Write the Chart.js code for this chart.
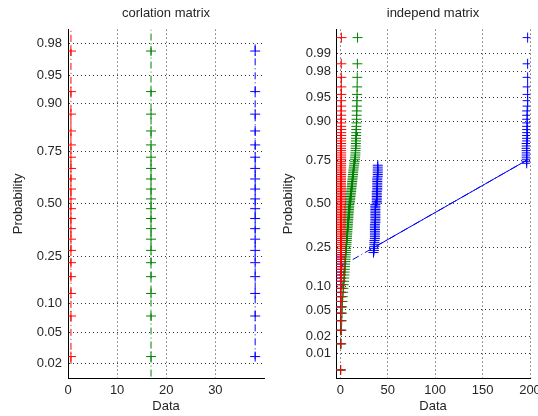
<!DOCTYPE html>
<html lang="en">
<head>
<meta charset="UTF-8"/>
<title>Normal probability plots</title>
<script src="https://cdn.jsdelivr.net/npm/chart.js"></script>
<style>
  body { margin: 0; background: #fff; }
  .panel { position: absolute; top: 0; }
  #leftPanel { left: 0; }
  #rightPanel { left: 270px; }
</style>
</head>
<body>
<div class="panel" id="leftPanel"><canvas id="corChart" width="270" height="416"></canvas></div>
<div class="panel" id="rightPanel"><canvas id="indChart" width="268" height="416"></canvas></div>
<script>
// ---- left panel: corlation matrix (20 samples per column) ----
const corRed   = [0.6,0.6,0.6,0.6,0.6,0.6,0.6,0.6,0.6,0.6,0.6,0.6,0.6,0.6,0.6,0.6,0.6,0.6,0.6,0.6];
const corGreen = [16.9,16.9,16.9,16.9,16.9,16.9,16.9,16.9,16.9,16.9,16.9,16.9,16.9,16.9,16.9,16.9,16.9,16.9,16.9,16.9];
const corBlue  = [38.1,38.1,38.1,38.1,38.1,38.1,38.1,38.1,38.1,38.1,38.1,38.1,38.1,38.1,38.1,38.1,38.1,38.1,38.1,38.1];
// reference lines (probability span)
const corLineLow  = [0.02, 0.005, 0.023];
const corLineHigh = [0.995, 0.995, 0.98];
const corTicksP = [0.02, 0.05, 0.10, 0.25, 0.50, 0.75, 0.90, 0.95, 0.98];
const corTicksX = [0, 10, 20, 30];

// ---- right panel: independ matrix (100 samples per column, sorted) ----
const indRed = [
  0.3,0.3,0.4,0.4,0.4,0.5,0.5,0.5,0.5,0.5,
  0.5,0.5,0.6,0.6,0.6,0.6,0.6,0.6,0.6,0.6,
  0.6,0.6,0.6,0.6,0.6,0.6,0.7,0.7,0.7,0.7,
  0.7,0.7,0.7,0.7,0.7,0.7,0.7,0.7,0.7,0.7,
  0.7,0.7,0.7,0.7,0.7,0.7,0.7,0.7,0.8,0.8,
  0.8,0.8,0.8,0.8,0.8,0.8,0.8,0.8,0.8,0.8,
  0.8,0.8,0.8,0.8,0.8,0.8,0.9,0.9,0.9,0.9,
  0.9,0.9,0.9,0.9,0.9,0.9,0.9,0.9,0.9,0.9,
  0.9,0.9,0.9,0.9,0.9,1.0,1.0,1.0,1.0,1.0,
  1.0,1.0,1.0,1.0,1.0,1.1,1.1,1.1,1.1,1.2
];
const indGreen = [
  0.5,1.0,1.2,1.5,1.8,2.0,2.3,2.6,3.0,3.3,
  3.6,3.9,4.2,4.4,4.6,4.8,5.0,5.1,5.3,5.4,
  5.6,5.7,5.9,6.0,6.2,6.4,6.5,6.7,6.8,7.0,
  7.1,7.2,7.4,7.5,7.6,7.8,7.9,8.0,8.1,8.3,
  8.4,8.5,8.6,8.8,8.9,9.0,9.1,9.3,9.4,9.5,
  10.0,10.2,10.4,10.6,10.8,11.0,11.2,11.4,11.6,11.8,
  12.0,12.2,12.4,12.6,12.8,13.0,13.2,13.4,13.6,13.8,
  14.0,14.3,14.6,14.9,15.2,15.5,15.7,15.9,16.0,16.1,
  16.2,16.3,16.4,16.5,16.6,16.7,16.8,16.9,17.0,17.1,
  17.2,17.3,17.4,17.5,17.6,17.7,17.8,17.9,18.0,18.2
];
const indBlue = [
  0.3,0.3,0.4,0.4,0.4,0.5,0.5,0.5,0.5,0.5,
  0.5,0.5,0.6,0.6,0.6,0.6,0.6,0.6,0.6,0.6,
  0.6,0.6,35.0,35.5,35.5,36.0,36.0,36.0,36.0,36.5,
  36.5,36.5,36.5,36.5,36.5,36.5,36.5,36.5,37.0,37.0,
  37.0,37.0,37.0,37.0,37.0,37.0,37.0,37.0,37.0,37.0,
  38.5,38.5,38.5,38.5,38.5,38.5,38.5,38.5,39.0,39.0,
  39.0,39.0,39.0,39.0,39.0,39.0,39.5,39.5,39.5,39.5,
  39.5,39.5,39.5,196.5,196.5,196.5,196.5,196.5,196.5,196.5,
  196.5,196.5,196.5,197.0,197.0,197.0,197.0,197.0,197.0,197.0,
  197.0,197.0,197.0,197.5,197.5,197.5,197.5,197.5,197.5,197.5
];
const indTicksP = [0.01, 0.02, 0.05, 0.10, 0.25, 0.50, 0.75, 0.90, 0.95, 0.98, 0.99];
const indTicksX = [0, 50, 100, 150, 200];

const RED = '#ff0000', GREEN = '#008000', BLUE = '#0000ff';
const FONT = 'Liberation Sans, Arial, sans-serif';
const TEXT = '#262626';
const DASHDOT = [7, 3, 1, 3];

// inverse normal cdf (Acklam)
function norminv(p) {
  const a = [-39.69683028665376, 220.9460984245205, -275.9285104469687, 138.3577518672690, -30.66479806614716, 2.506628277459239];
  const b = [-54.47609879822406, 161.5858368580409, -155.6989798598866, 66.80131188771972, -13.28068155288572];
  const c = [-0.007784894002430293, -0.3223964580411365, -2.400758277161838, -2.549732539343734, 4.374664141464968, 2.938163982698783];
  const d = [0.007784695709041462, 0.3224671290700398, 2.445134137142996, 3.754408661907416];
  const lo = 0.02425;
  let q, r;
  if (p < lo) {
    q = Math.sqrt(-2 * Math.log(p));
    return (((((c[0]*q+c[1])*q+c[2])*q+c[3])*q+c[4])*q+c[5]) / ((((d[0]*q+d[1])*q+d[2])*q+d[3])*q+1);
  }
  if (p > 1 - lo) {
    q = Math.sqrt(-2 * Math.log(1 - p));
    return -(((((c[0]*q+c[1])*q+c[2])*q+c[3])*q+c[4])*q+c[5]) / ((((d[0]*q+d[1])*q+d[2])*q+d[3])*q+1);
  }
  q = p - 0.5; r = q * q;
  return (((((a[0]*r+a[1])*r+a[2])*r+a[3])*r+a[4])*r+a[5])*q / (((((b[0]*r+b[1])*r+b[2])*r+b[3])*r+b[4])*r+1);
}

// normplot positions: sorted sample i -> (i - 0.5) / n
function probPoints(xs) {
  const n = xs.length;
  return xs.map((x, i) => ({ x: x, y: norminv((i + 0.5) / n) }));
}

function prctile(xs, pct) {
  const n = xs.length;
  const pos = pct / 100 * n + 0.5;
  if (pos < 1) return xs[0];
  if (pos >= n) return xs[n - 1];
  const i = Math.floor(pos);
  return xs[i - 1] + (pos - i) * (xs[i] - xs[i - 1]);
}

// line through the quartiles, extended over the data range
function fitLines(xs) {
  const q1 = prctile(xs, 25), q3 = prctile(xs, 75);
  const z1 = norminv(0.25), z3 = norminv(0.75);
  const slope = (z3 - z1) / (q3 - q1);
  const cx = (q1 + q3) / 2;
  const mn = Math.min(...xs), mx = Math.max(...xs);
  return {
    solid: [{ x: q1, y: z1 }, { x: q3, y: z3 }],
    dashed: [{ x: mn, y: -slope * (cx - mn) }, { x: mx, y: slope * (mx - cx) }]
  };
}

function markerSet(xs, color) {
  return { data: probPoints(xs), showLine: false, pointStyle: 'cross', pointRadius: 5,
           borderColor: color, borderWidth: 1, pointBorderWidth: 1 };
}
function lineSet(pts, color, dash) {
  return { data: pts, showLine: true, pointRadius: 0, borderColor: color, borderWidth: 1, borderDash: dash || [] };
}

function makeChart(id, cfg) {
  const axisFont = { family: FONT, size: 13 };
  return new Chart(document.getElementById(id), {
    type: 'scatter',
    data: { datasets: cfg.datasets },
    options: {
      responsive: false,
      animation: false,
      events: [],
      layout: { padding: { left: 0, right: cfg.padRight, top: 0, bottom: 0 } },
      plugins: {
        legend: { display: false },
        tooltip: { enabled: false },
        title: { display: true, text: cfg.title, color: TEXT, fullSize: false,
                 font: { family: FONT, size: 13, weight: 'normal' }, padding: { top: 6, bottom: 8 } }
      },
      scales: {
        x: {
          type: 'linear', min: cfg.xMin, max: cfg.xMax,
          afterBuildTicks: s => { s.ticks = cfg.xTicks.map(v => ({ value: v })); },
          afterFit: s => { s.height = 38; s.paddingLeft = 0; s.paddingRight = 0; },
          ticks: { color: TEXT, font: axisFont, padding: 5, maxRotation: 0, autoSkip: false,
                   callback: v => String(v) },
          grid: { color: 'rgba(0,0,0,0.8)', lineWidth: 1, drawTicks: false },
          border: { display: true, color: '#000', width: 1, dash: [1, 3] },
          title: { display: true, text: 'Data', color: TEXT, font: axisFont, padding: { top: 0, bottom: 1.5 } }
        },
        y: {
          type: 'linear', min: -cfg.zLim, max: cfg.zLim,
          afterBuildTicks: s => { s.ticks = cfg.yTicks.map(p => ({ value: norminv(p) })); },
          afterFit: s => { s.width = cfg.yWidth; s.paddingTop = 0; s.paddingBottom = 0; },
          ticks: { color: TEXT, font: axisFont, padding: cfg.yPad, autoSkip: false,
                   callback: (v, i) => cfg.yTicks[i].toFixed(2) },
          grid: { color: 'rgba(0,0,0,0.8)', lineWidth: 1, drawTicks: false },
          border: { display: true, color: '#000', width: 1, dash: [1, 3] },
          title: { display: true, text: 'Probability', color: TEXT, font: axisFont, padding: { top: 11, bottom: 0 } }
        }
      }
    }
  });
}

// left chart
const corCols = [[corRed, RED], [corGreen, GREEN], [corBlue, BLUE]];
const corSets = corCols.map(([xs, col]) => markerSet(xs, col));
corCols.forEach(([xs, col], i) => {
  corSets.push(lineSet([{ x: xs[0], y: norminv(corLineLow[i]) }, { x: xs[0], y: norminv(corLineHigh[i]) }], col, DASHDOT));
});
makeChart('corChart', {
  title: 'corlation matrix', datasets: corSets,
  xMin: 0, xMax: 39.9, xTicks: corTicksX, yTicks: corTicksP, zLim: 2.235,
  yWidth: 68, yPad: 6, padRight: 2
});

// right chart
const indCols = [[indRed, RED], [indGreen, GREEN], [indBlue, BLUE]];
const indSets = indCols.map(([xs, col]) => markerSet(xs, col));
indCols.forEach(([xs, col]) => {
  const f = fitLines(xs);
  indSets.push(lineSet(f.solid, col));
  indSets.push(lineSet(f.dashed, col, DASHDOT));
});
makeChart('indChart', {
  title: 'independ matrix', datasets: indSets,
  xMin: -4.5, xMax: 200, xTicks: indTicksX, yTicks: indTicksP, zLim: 2.70,
  yWidth: 66, yPad: 5, padRight: 8
});
</script>
</body>
</html>
